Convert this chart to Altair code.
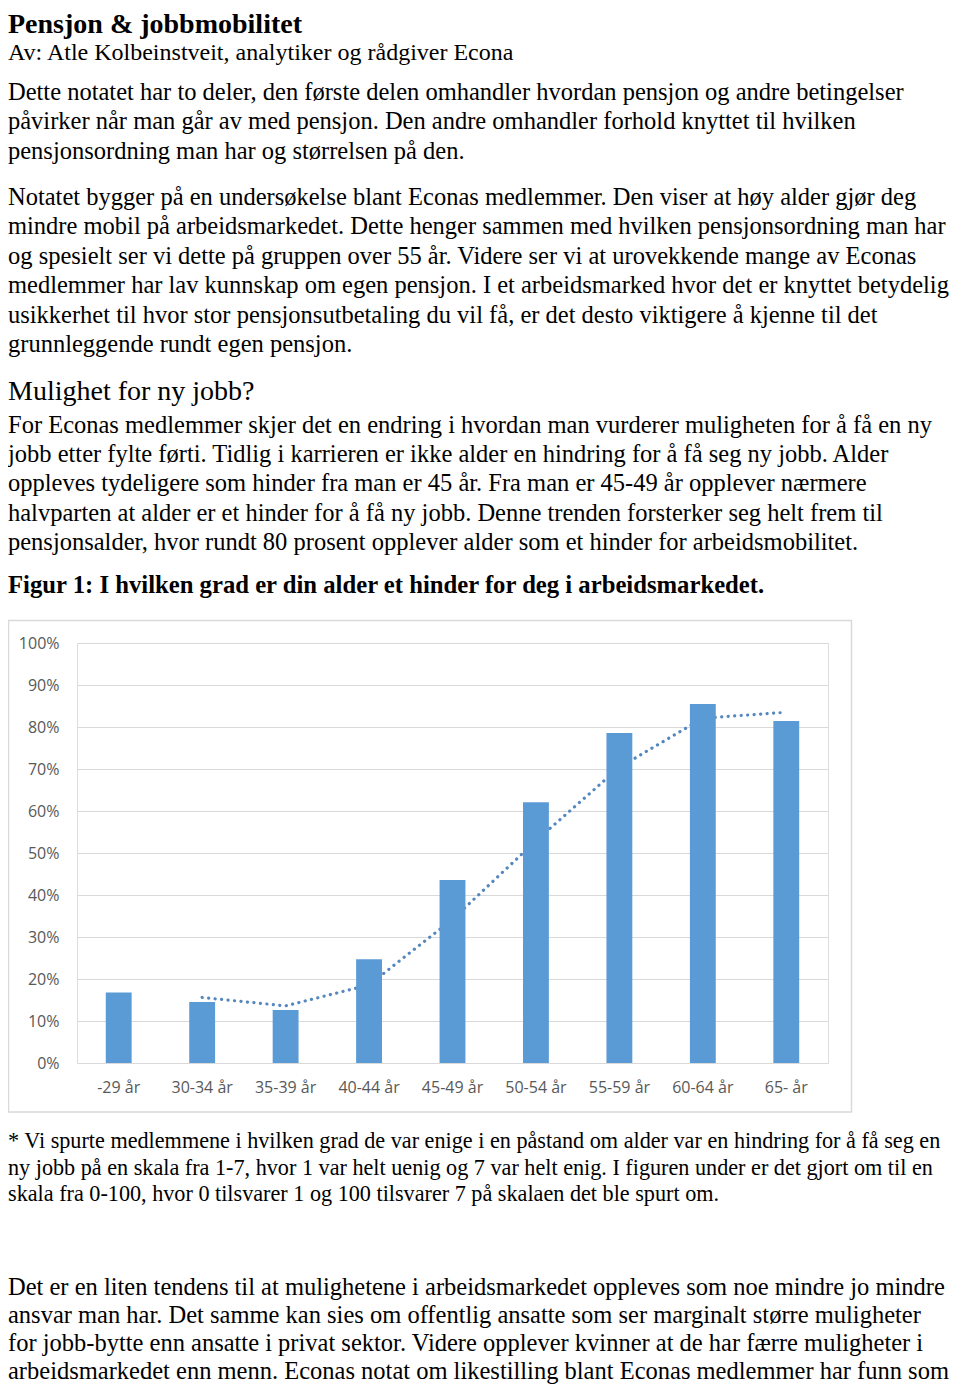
import altair as alt
import pandas as pd

# ---------------- data ----------------
age_groups = ["-29 år", "30-34 år", "35-39 år", "40-44 år", "45-49 år",
              "50-54 år", "55-59 år", "60-64 år", "65- år"]
share_hinder = [16.8, 14.5, 12.6, 24.7, 43.6, 62.1, 78.6, 85.5, 81.4]
trend_values = [None, 15.6, 13.6, 18.6, 34.2, 52.9, 70.4, 82.1, 83.5]
y_ticks = [0, 10, 20, 30, 40, 50, 60, 70, 80, 90, 100]

title_text = "Pensjon & jobbmobilitet"
byline_text = "Av: Atle Kolbeinstveit, analytiker og rådgiver Econa"
para1 = [
    "Dette notatet har to deler, den første delen omhandler hvordan pensjon og andre betingelser",
    "påvirker når man går av med pensjon. Den andre omhandler forhold knyttet til hvilken",
    "pensjonsordning man har og størrelsen på den.",
]
para2 = [
    "Notatet bygger på en undersøkelse blant Econas medlemmer. Den viser at høy alder gjør deg",
    "mindre mobil på arbeidsmarkedet. Dette henger sammen med hvilken pensjonsordning man har",
    "og spesielt ser vi dette på gruppen over 55 år. Videre ser vi at urovekkende mange av Econas",
    "medlemmer har lav kunnskap om egen pensjon. I et arbeidsmarked hvor det er knyttet betydelig",
    "usikkerhet til hvor stor pensjonsutbetaling du vil få, er det desto viktigere å kjenne til det",
    "grunnleggende rundt egen pensjon.",
]
heading_text = "Mulighet for ny jobb?"
para3 = [
    "For Econas medlemmer skjer det en endring i hvordan man vurderer muligheten for å få en ny",
    "jobb etter fylte førti. Tidlig i karrieren er ikke alder en hindring for å få seg ny jobb. Alder",
    "oppleves tydeligere som hinder fra man er 45 år. Fra man er 45-49 år opplever nærmere",
    "halvparten at alder er et hinder for å få ny jobb. Denne trenden forsterker seg helt frem til",
    "pensjonsalder, hvor rundt 80 prosent opplever alder som et hinder for arbeidsmobilitet.",
]
figure_caption = "Figur 1: I hvilken grad er din alder et hinder for deg i arbeidsmarkedet."
footnote = [
    "* Vi spurte medlemmene i hvilken grad de var enige i en påstand om alder var en hindring for å få seg en",
    "ny jobb på en skala fra 1-7, hvor 1 var helt uenig og 7 var helt enig. I figuren under er det gjort om til en",
    "skala fra 0-100, hvor 0 tilsvarer 1 og 100 tilsvarer 7 på skalaen det ble spurt om.",
]
para4 = [
    "Det er en liten tendens til at mulighetene i arbeidsmarkedet oppleves som noe mindre jo mindre",
    "ansvar man har. Det samme kan sies om offentlig ansatte som ser marginalt større muligheter",
    "for jobb-bytte enn ansatte i privat sektor. Videre opplever kvinner at de har færre muligheter i",
    "arbeidsmarkedet enn menn. Econas notat om likestilling blant Econas medlemmer har funn som",
]

df = pd.DataFrame({"age": age_groups, "share": share_hinder, "trend": trend_values})

# ---------------- layout constants ----------------
PLOT_W, PLOT_H = 751, 420
OX, OY = 69, 635          # plot origin inside the svg (page = +8)
SVG_W, SVG_H = 944, 1377
SERIF = "Liberation Serif"
SANS = "Open Sans"
BLUE = "#5b9bd5"
TREND = "#5487bd"
GRID = "#d9d9d9"
BODY = 24.5


def text_block(lines, page_baseline, size, weight="normal", line_h=29.4):
    return alt.Chart(alt.Data(values=[{}])).mark_text(
        align="left", baseline="alphabetic", font=SERIF, fontSize=size,
        fontWeight=weight, color="#000000", lineHeight=line_h,
    ).encode(
        x=alt.value(-OX),
        y=alt.value(page_baseline - 8 - OY),
        text=alt.value(lines),
    )


x_enc = alt.X(
    "age:N", sort=age_groups, title=None,
    scale=alt.Scale(paddingInner=0.69, paddingOuter=0.345),
    axis=alt.Axis(labelAngle=0, labelFont=SANS, labelFontSize=16, labelColor="#595959",
                  domain=False, ticks=False, labelPadding=16, grid=False),
)
y_enc = alt.Y(
    "share:Q", title=None,
    scale=alt.Scale(domain=[0, 100], nice=False),
    axis=alt.Axis(values=y_ticks, labelExpr="datum.value + '%'", labelFont=SANS,
                  labelFontSize=16, labelColor="#595959", domain=False, ticks=False,
                  labelPadding=18, grid=True, gridColor=GRID, gridWidth=1),
)

trend = alt.Chart(df).mark_line(
    color=TREND, strokeWidth=3.2, strokeDash=[0.1, 6.4], strokeCap="round"
).encode(x=x_enc, y=alt.Y("trend:Q"))

bars = alt.Chart(df).mark_bar(color=BLUE).encode(x=x_enc, y=y_enc)

frame = alt.Chart(alt.Data(values=[{}])).mark_rect(
    filled=False, stroke=GRID, strokeWidth=1.5
).encode(
    x=alt.value(-OX + 0.5), x2=alt.value(774.5),
    y=alt.value(-22.5), y2=alt.value(469),
)

texts = [
    text_block([title_text], 33, 28, "bold"),
    text_block([byline_text], 60, 24),
    text_block(para1, 100, BODY),
    text_block(para2, 205, BODY),
    text_block([heading_text], 400, 28),
    text_block(para3, 432.5, BODY),
    text_block([figure_caption], 593, 24.7, "bold"),
    text_block(footnote, 1148, 22.2, line_h=26.5),
    text_block(para4, 1295, BODY, line_h=28),
]

chart = alt.layer(frame, trend, bars, *texts).properties(
    width=PLOT_W, height=PLOT_H,
    autosize=alt.AutoSizeParams(type="none"),
    padding={"left": OX, "top": OY, "right": SVG_W - OX - PLOT_W,
             "bottom": SVG_H - OY - PLOT_H},
).configure_view(stroke=None).configure(background="white")

chart.save("out.html", embed_options={"renderer": "svg", "actions": False})
